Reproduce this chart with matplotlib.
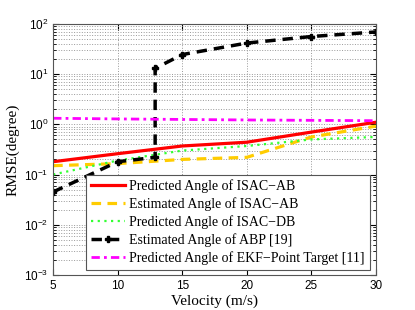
import matplotlib
matplotlib.use("Agg")
import matplotlib.pyplot as plt
import numpy as np
from matplotlib.ticker import LogLocator, NullFormatter

velocity = [5, 10, 15, 20, 25, 30]
pred_isac_ab = [0.18, 0.26, 0.37, 0.44, 0.70, 1.10]
est_isac_ab = [0.15, 0.165, 0.20, 0.22, 0.56, 0.92]
pred_isac_db = [0.10, 0.19, 0.30, 0.37, 0.50, 0.56]
abp_velocity = [5, 10, 12.9, 12.9, 15, 20, 25, 30]
est_abp = [0.045, 0.18, 0.22, 13.0, 24.5, 41.5, 56.0, 69.0]
pred_ekf = [1.32, 1.28, 1.25, 1.22, 1.20, 1.18]

labels = [
    "Predicted Angle of ISAC\u2212AB",
    "Estimated Angle of ISAC\u2212AB",
    "Predicted Angle of ISAC\u2212DB",
    "Estimated Angle of ABP [19]",
    "Predicted Angle of EKF\u2212Point Target [11]",
]

plt.rcParams['mathtext.default'] = 'regular'
fig = plt.figure(figsize=(4.15, 3.10), dpi=100)
ax = fig.add_axes([0.128, 0.113, 0.778, 0.81])

ax.plot(velocity, pred_isac_ab, color='#ff0000', lw=2.3, ls='-', label=labels[0])
ax.plot(velocity, est_isac_ab, color='#ffcc00', lw=2.3, ls=(0, (3, 2)), label=labels[1])
ax.plot(velocity, pred_isac_db, color='#33ff33', lw=1.6, ls=(0, (1, 2)), label=labels[2])
ax.plot(abp_velocity, est_abp, color='black', lw=2.5, ls=(0, (3, 2)), marker='P',
        markersize=5, label=labels[3])
ax.plot(velocity, pred_ekf, color='#ff00ff', lw=2.0, ls=(0, (3, 1.5, 1, 1.5)), label=labels[4])

ax.set_yscale('log')
ax.set_xlim(5, 30)
ax.set_ylim(1e-3, 1e2)
ax.set_xticks([5, 10, 15, 20, 25, 30])
ax.yaxis.set_major_locator(LogLocator(base=10, numticks=10))
ax.yaxis.set_minor_locator(LogLocator(base=10, subs=np.arange(2, 10), numticks=20))
ax.yaxis.set_minor_formatter(NullFormatter())

ax.grid(True, which='major', ls=':', color='#999999', lw=0.7)
ax.grid(True, which='minor', axis='y', ls=':', color='#999999', lw=0.7)
ax.tick_params(which='both', direction='in', top=True, right=True, labelsize=8.5)
ax.tick_params(which='major', length=4)
ax.tick_params(which='minor', length=2)
for lab in ax.get_xticklabels() + ax.get_yticklabels():
    lab.set_family('Liberation Sans')
for s in ax.spines.values():
    s.set_color('#555555')
    s.set_linewidth(0.8)

ax.set_xlabel('Velocity (m/s)', family='Liberation Serif', fontsize=11, labelpad=2)
ax.set_ylabel('RMSE(degree)', family='Liberation Serif', fontsize=11, labelpad=3)

leg = ax.legend(loc='lower right', bbox_to_anchor=(0.981, 0.02),
                prop={'family': 'Liberation Serif', 'size': 10},
                handlelength=2.5, handletextpad=0.3, labelspacing=0.3,
                borderpad=0.35, fancybox=False, framealpha=1, edgecolor='#555555',
                borderaxespad=0)
leg.get_frame().set_linewidth(0.8)

fig.savefig('out.png', dpi=100)
